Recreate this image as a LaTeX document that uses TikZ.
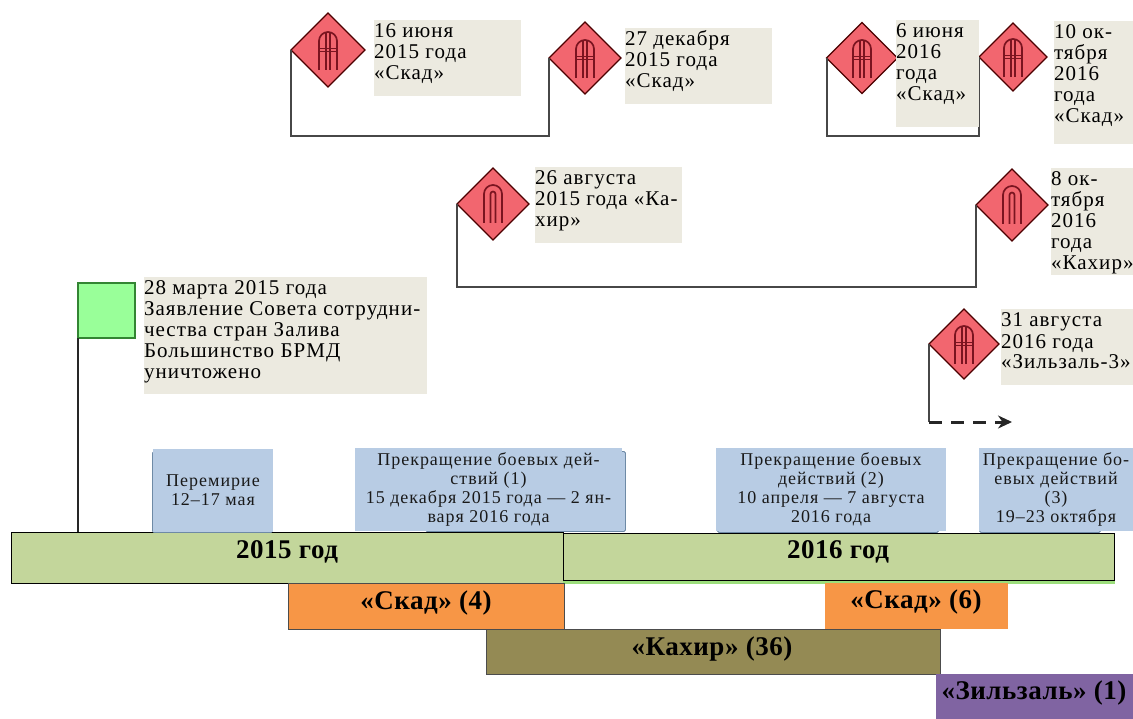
\documentclass[tikz,border=0pt]{standalone}
\usepackage{fontspec}
\setmainfont{Liberation Serif}
\newfontfamily\notefont[LetterSpace=5]{Liberation Serif}
\newfontfamily\bluefont[LetterSpace=5.5]{Liberation Serif}
\newfontfamily\barfont[LetterSpace=2,BoldFont={Liberation Serif Bold}]{Liberation Serif}
\usetikzlibrary{shapes.geometric,arrows.meta,positioning}
\newcommand{\lbl}[3]{\parbox[t][#2pt][t]{#1pt}{\raggedright\fontsize{21}{21}\notefont\rule{0pt}{18pt}#3}}
\definecolor{cream}{HTML}{ECEAE0}
\definecolor{bluebox}{HTML}{B8CCE4}
\definecolor{blueedge}{HTML}{6E8AA6}
\definecolor{barg}{HTML}{C3D69B}
\definecolor{orng}{HTML}{F79646}
\definecolor{olv}{HTML}{948A54}
\definecolor{purp}{HTML}{8064A2}
\definecolor{redd}{HTML}{F2666F}
\definecolor{redline}{HTML}{7A1420}
\definecolor{lineg}{HTML}{474747}
\tikzset{
  mark diamond/.style={diamond,shape aspect=1,inner sep=0pt,outer sep=0pt,minimum width=#1pt,minimum height=#1pt,fill=redd,draw=black!70!red,line width=1.3pt},
  link/.style={draw=lineg,line width=2pt,line join=miter},
  note/.style={anchor=north west,fill=cream,inner sep=0pt,outer sep=0pt,text=black},
  bluenote/.style={fill=bluebox,inner sep=0pt,outer sep=0pt,align=center,font=\fontsize{18}{19}\bluefont,text=black!90},
  blueback/.style={draw=blueedge,fill=bluebox,line width=0.9pt,rounded corners=1.5pt},
  bar/.style={anchor=north west,inner sep=0pt,outer sep=0pt,text=black},
  bartext/.style={font=\fontsize{27}{29}\barfont\bfseries,inner sep=0pt},
  glyph/.style={draw=redline,line width=1.7pt},
  pics/arch A/.style={code={
    \draw[glyph] (-9,20) -- (-9,-9) arc[start angle=180,end angle=360,radius=9] -- (9,20);
    \draw[glyph] (-2,20) -- (-2,-17.5) (2,20) -- (2,-17.5);
    \draw[glyph] (-9,-1.5) -- (9,-1.5) (-9,1.5) -- (9,1.5);
  }},
  pics/arch K/.style={code={
    \draw[glyph] (-9,19) -- (-9,-10) arc[start angle=180,end angle=360,radius=9] -- (9,19);
    \draw[glyph] (-2.5,19) -- (-2.5,-10) arc[start angle=180,end angle=360,radius=2.5] -- (2.5,19);
  }},
}
\begin{document}
\begin{tikzpicture}[x=1pt,y=-1pt]
\useasboundingbox (0,0) rectangle (1133,719);
% diamonds
\node[mark diamond=74] (d1) at (328,50) {};
\node[mark diamond=72] (d2) at (585,58) {};
\node[mark diamond=71] (d3) at (862,58) {};
\node[mark diamond=68] (d4) at (1013,57) {};
\node[mark diamond=72] (d5) at (493,204) {};
\node[mark diamond=72] (d6) at (1012,205) {};
\node[mark diamond=70] (d7) at (964,344) {};
\pic at (328,50) {arch A};
\pic at (585,58) {arch A};
\pic at (862,58) {arch A};
\pic at (1013,57) {arch A};
\pic at (493,204) {arch K};
\pic at (1012,205) {arch K};
\pic at (964,344) {arch A};
% year bars
\node[bar,fill=barg,draw=black,line width=1pt,minimum width=552pt,minimum height=51pt] (y15) at (11,532) {};
\node[bartext] (y15t) at (287,552) {2015 год};
\fill[barg!80!green] (563,536) rectangle (1115,584);
\node[bar,fill=barg,draw=black,line width=1pt,minimum width=551pt,minimum height=47pt] (y16) at (563,533) {};
\node[bartext] (y16t) at (838,552) {2016 год};
\node[bar,fill=orng,draw=black!70,line width=0.8pt,minimum width=276pt,minimum height=46pt] (s4) at (288,583) {};
\node[bartext] (s4t) at (426,603) {«Скад» (4)};
\node[bar,fill=olv,draw=black!70,line width=0.8pt,minimum width=454pt,minimum height=45pt] (k) at (486,629) {};
\node[bartext] (kt) at (712,649) {«Кахир» (36)};
\node[bar,fill=orng,minimum width=183pt,minimum height=46pt] (s6) at (825,583) {};
\node[bartext] (s6t) at (916,602) {«Скад» (6)};
\node[bar,fill=purp,minimum width=197pt,minimum height=45pt] (z) at (936,674) {};
\node[bartext] (zt) at (1034,693) {«Зильзаль» (1)};
% flag
\node[anchor=north west,fill=green!40!white,draw=black!60!green!80,line width=2pt,inner sep=0pt,outer sep=0pt,minimum width=57pt,minimum height=55pt] (f) at (78,283) {};
\draw[draw=black!85,line width=1.5pt] (f.south west) -- (f.south west |- y15.north);
% connectors
\draw[link] (d1.west) -- ++(0,86) -| (d2.west);
\draw[link] (d3.west) -- ++(0,78) -| (d4.west);
\draw[link] (d5.west) -- ++(0,83) -| (d6.west);
\coordinate (zc) at (d7.west |- 0,422);
\coordinate (ze) at (1012,422);
\draw[link] (d7.west) -- (zc);
\draw[draw=black!85,line width=3pt,dash pattern=on 13pt off 9pt,-{Stealth[length=14pt,width=13pt]}] (zc) -- (ze);
% date labels
\node[note] (t1) at (374,20) {\lbl{147}{76}{16 июня\\2015 года\\«Скад»}};
\node[note] (t2) at (625,28) {\lbl{147}{76}{27 декабря\\2015 года\\«Скад»}};
\node[note] (t3) at (896,20) {\lbl{83}{107}{6 июня\\2016\\года\\«Скад»}};
\node[note] (t4) at (1054,21) {\lbl{79}{123}{10 ок-\\тября\\2016\\года\\«Скад»}};
\node[note] (t5) at (535,167) {\lbl{147}{76}{26 августа\\2015 года «Ка-\\хир»}};
\node[note] (t6) at (1051,168) {\lbl{82}{107}{8 ок-\\тября\\2016\\года\\«Кахир»}};
\node[note] (t7) at (1001,309) {\lbl{132}{76}{31 августа\\2016 года\\«Зильзаль-3»}};
\node[note] (t8) at (144,277) {\lbl{283}{117}{28 марта 2015 года\\Заявление Совета сотрудни-\\чества стран Залива\\Большинство БРМД\\уничтожено}};
% ceasefire boxes
\node[blueback,anchor=north west,minimum width=120pt,minimum height=81pt,inner sep=0pt] (b1b) at (152,451) {};
\node[blueback,anchor=north west,minimum width=200pt,minimum height=80pt,inner sep=0pt] (b2b) at (425,451) {};
\node[blueback,anchor=north west,minimum width=221pt,minimum height=81pt,inner sep=0pt] (b3b) at (717,451) {};
\node[blueback,anchor=north west,minimum width=121pt,minimum height=81pt,inner sep=0pt] (b4b) at (979,451) {};
\node[bluenote,anchor=north west,minimum width=120pt,minimum height=83pt] (b1) at (153,449) {\raisebox{10pt}{\parbox{120pt}{\centering Перемирие\\12–17 мая}}};
\node[bluenote,anchor=north west,minimum width=267pt,minimum height=83pt] (b2) at (355,448) {\raisebox{6pt}{\parbox{267pt}{\centering Прекращение боевых дей-\\ствий (1)\\15 декабря 2015 года — 2 ян-\\варя 2016 года}}};
\node[bluenote,anchor=north west,minimum width=230pt,minimum height=83pt] (b3) at (716,448) {\raisebox{6pt}{\parbox{230pt}{\centering Прекращение боевых\\действий (2)\\10 апреля — 7 августа\\2016 года}}};
\node[bluenote,anchor=north west,minimum width=154pt,minimum height=83pt] (b4) at (979,448) {\raisebox{6pt}{\parbox{154pt}{\centering Прекращение бо-\\евых действий\\(3)\\19–23 октября}}};
\end{tikzpicture}
\end{document}
